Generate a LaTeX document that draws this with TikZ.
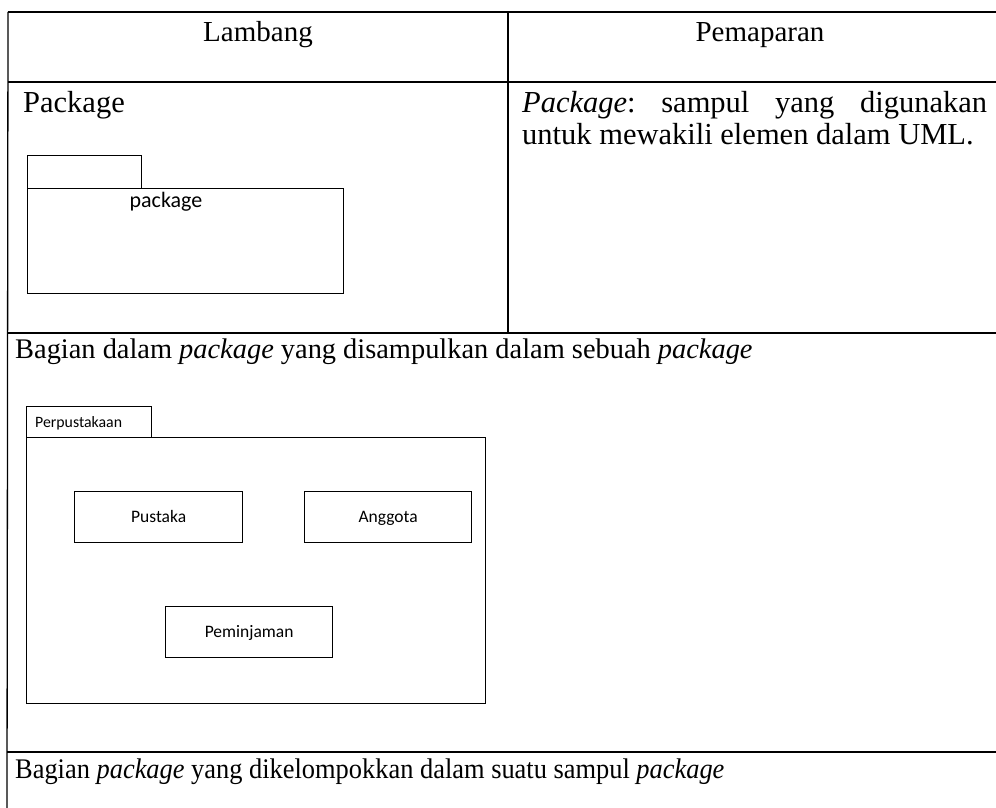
\documentclass[tikz,border=0pt]{standalone}
\usepackage{fontspec}
\setmainfont{Liberation Serif}
\newfontfamily\boxfont{Carlito}
\frenchspacing
\begin{document}
\begin{tikzpicture}[x=1pt,y=-1pt,
  rule/.style={line width=2pt},
  vrule/.style={line width=1.3pt},
  umlbox/.style={draw,line width=1.3pt,rectangle,inner sep=0pt,anchor=north west},
  headtext/.style={font=\fontsize{29}{31}\selectfont,inner sep=0pt},
  rowtext/.style={font=\fontsize{30.5}{31}\selectfont,inner sep=0pt},
  captext/.style={font=\fontsize{28.4}{31}\selectfont,inner sep=0pt},
  boxtext/.style={font=\boxfont\fontsize{17.5}{20}\selectfont,inner sep=0pt,anchor=base,yshift=-5.5pt}]
\useasboundingbox (0,0) rectangle (996,808);
% table
\draw[rule] (8,12) -- (996,12);
\draw[rule] (8,82) -- (996,82);
\draw[rule] (8,333) -- (996,333);
\draw[rule] (7,752) -- (996,752);
\draw[vrule] (8,12) -- (7,808);
\draw[vrule] (508,12) -- (508,333);
% header
\node[headtext,anchor=base] (h1) at (258,42) {Lambang};
\node[headtext,anchor=base] (h2) at (760,42) {Pemaparan};
% row 2
\node[rowtext,anchor=base west] (pk) at (23,112) {Package};
\node[rowtext,anchor=base west] (d1) at (522,112) {\makebox[465pt][s]{\textit{Package}: sampul yang digunakan}};
\node[rowtext,anchor=base west] (d2) at (522,144) {untuk mewakili elemen dalam UML.};
% package symbol
\node[umlbox,minimum width=114pt,minimum height=33pt] (ptab) at (27,155) {};
\node[umlbox,minimum width=316pt,minimum height=105pt] (pbody) at (27,188) {};
\node[inner sep=0pt,anchor=base,font=\boxfont\fontsize{22}{24}\selectfont] (plabel) at (166,207) {package};
% row 3
\node[captext,anchor=base west] (r3) at (15,358) {Bagian dalam \textit{package} yang disampulkan dalam sebuah \textit{package}};
\node[umlbox,minimum width=125pt,minimum height=31pt] (ltab) at (26,406) {};
\node[umlbox,minimum width=459pt,minimum height=266pt] (lbody) at (26,437) {};
\node[inner sep=0pt,anchor=base west,font=\boxfont\fontsize{15.8}{18}\selectfont] (llabel) at (35,427) {Perpustakaan};
\node[umlbox,minimum width=168pt,minimum height=51pt] (pustaka) at (74,491) {};
\node[boxtext] (tpustaka) at (pustaka.center) {Pustaka};
\node[umlbox,minimum width=167pt,minimum height=51pt] (anggota) at (304,491) {};
\node[boxtext] (tanggota) at (anggota.center) {Anggota};
\node[umlbox,minimum width=167pt,minimum height=51pt] (pinjam) at (165,606) {};
\node[boxtext] (tpinjam) at (pinjam.center) {Peminjaman};
% row 4
\node[captext,anchor=base west] (r4) at (15,778) {\scalebox{0.93}[1]{Bagian \textit{package} yang dikelompokkan dalam suatu sampul \textit{package}}};
\end{tikzpicture}
\end{document}
